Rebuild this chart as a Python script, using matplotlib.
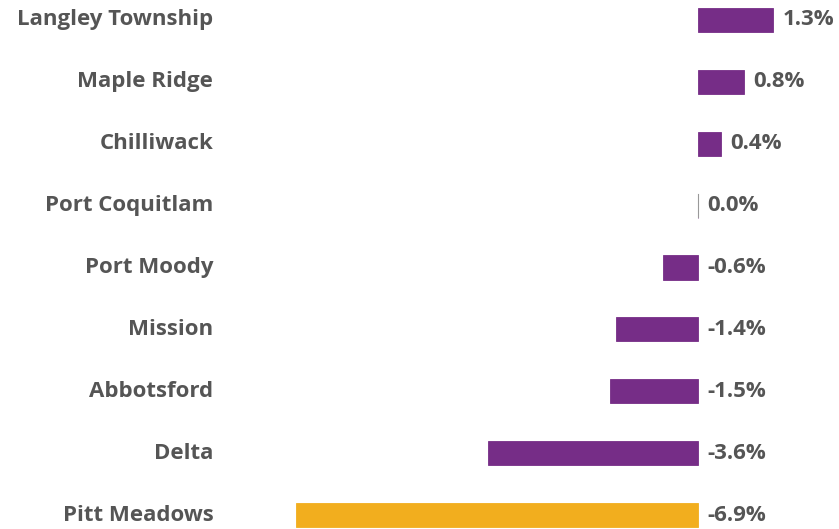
import matplotlib.pyplot as plt

cities = ["Langley Township", "Maple Ridge", "Chilliwack", "Port Coquitlam",
          "Port Moody", "Mission", "Abbotsford", "Delta", "Pitt Meadows"]
change = [1.3, 0.8, 0.4, 0.0, -0.6, -1.4, -1.5, -3.6, -6.9]
highlight = "Pitt Meadows"

purple = "#762D87"
orange = "#F2AE1E"
grey = "#555555"

plt.rcParams['font.family'] = ['Open Sans', 'DejaVu Sans']

fig = plt.figure(figsize=(8.39, 5.29), dpi=100)
ax = fig.add_axes([296 / 839, 0, 1 - 296 / 839, 1])

colors = [orange if c == highlight else purple for c in cities]
ypos = list(range(len(cities)))
ax.barh(ypos, change, height=0.39, color=colors, edgecolor=colors, linewidth=0.6)
# zero-width bar shows up as a thin grey stroke
ax.plot([0, 0], [3 - 0.19, 3 + 0.19], color="#999999", linewidth=0.8)

ax.set_xlim(-6.9, 2.43)
ax.set_ylim(8.226, -0.323)
ax.axis("off")

for y, c, v in zip(ypos, cities, change):
    ax.text(-6.9 - 1.42, y, c, ha="right", va="center", fontsize=16,
            fontweight="bold", color=grey)
    xlab = max(v, 0) + 0.16
    ax.text(xlab, y, f"{v:.1f}%", ha="left", va="center", fontsize=16,
            fontweight="bold", color=grey)

fig.savefig("out.png", dpi=100)
